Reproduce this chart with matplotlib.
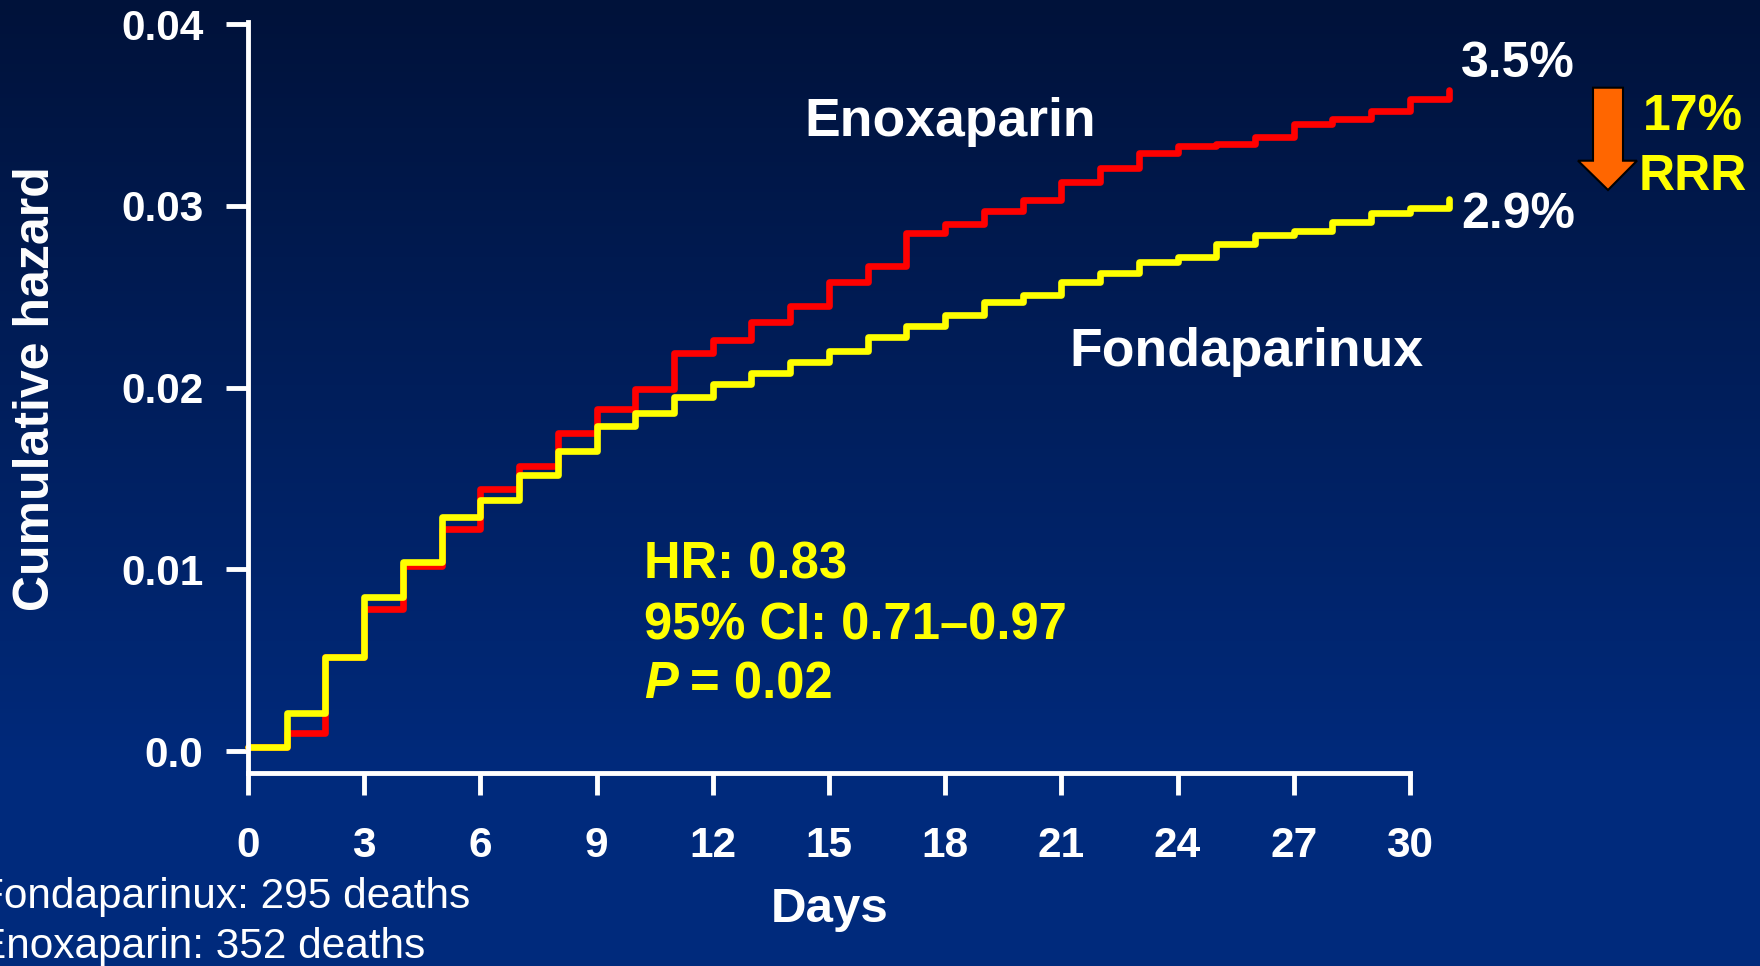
import numpy as np
import matplotlib
matplotlib.use("Agg")
import matplotlib.pyplot as plt
from matplotlib.patches import Polygon

plt.rcParams['font.family'] = ['Liberation Sans', 'DejaVu Sans']

# cumulative hazard at each day (step starts at that day), last value = day 31
days = np.arange(0, 32)
enoxaparin = [0.0002, 0.0010, 0.0052, 0.0078, 0.0102, 0.0122, 0.0144, 0.0157,
              0.0175, 0.0188, 0.0199, 0.0219, 0.0226, 0.0236, 0.0245, 0.0258,
              0.0267, 0.0285, 0.0290, 0.0297, 0.0303, 0.0313, 0.0321, 0.0329,
              0.0333, 0.0334, 0.0338, 0.0345, 0.0348, 0.0352, 0.0359, 0.0364]
fondaparinux = [0.0002, 0.0021, 0.0052, 0.0085, 0.0104, 0.0129, 0.0138, 0.0152,
                0.0165, 0.0179, 0.0186, 0.0195, 0.0202, 0.0208, 0.0214, 0.0220,
                0.0228, 0.0234, 0.0240, 0.0247, 0.0251, 0.0258, 0.0263, 0.0269,
                0.0272, 0.0279, 0.0284, 0.0286, 0.0291, 0.0296, 0.0299, 0.0304]

x_ticks = np.arange(0, 31, 3)
y_ticks = [0.0, 0.01, 0.02, 0.03, 0.04]
y_tick_labels = ['0.0', '0.01', '0.02', '0.03', '0.04']

W, H = 1760, 966
fig = plt.figure(figsize=(W / 100, H / 100), dpi=100)

# background gradient
bg = fig.add_axes([0, 0, 1, 1], zorder=-10)
top_col = np.array([0, 18, 58]) / 255
bot_col = np.array([0, 42, 124]) / 255
t = np.linspace(0, 1, 256)[:, None]
t = np.clip(t / 0.8, 0, 1)
grad = (top_col[None, :] * (1 - t) + bot_col[None, :] * t)[:, None, :]
bg.imshow(grad, aspect='auto', extent=[0, 1, 0, 1])
bg.axis('off')

ax = fig.add_axes([248 / W, 1 - 773 / H, (1468 - 248) / W, (773 - 22.4) / H])
ax.set_facecolor('none')

ax.plot(days, enoxaparin, drawstyle='steps-post', color='#ff0000', lw=4.8,
        solid_joinstyle='round', solid_capstyle='round', clip_on=False)
ax.plot(days, fondaparinux, drawstyle='steps-post', color='#ffff00', lw=4.8,
        solid_joinstyle='round', solid_capstyle='round', clip_on=False)

ax.set_xlim(0, 31.5)
ax.set_ylim(-0.00121, 0.0401)
for s in ['top', 'right']:
    ax.spines[s].set_visible(False)
for s in ['left', 'bottom']:
    ax.spines[s].set_color('white')
    ax.spines[s].set_linewidth(3.5)
ax.spines['bottom'].set_bounds(0, 30)

ax.set_xticks(x_ticks)
ax.set_yticks(y_ticks)
ax.set_yticklabels(y_tick_labels)
ax.tick_params(axis='both', direction='out', colors='white', width=3.5,
               length=16, labelsize=30.5)
ax.tick_params(axis='x', pad=22)
ax.tick_params(axis='y', pad=16)
for lab in ax.get_xticklabels() + ax.get_yticklabels():
    lab.set_fontweight('bold')

fig.text(36 / W, 1 - 389 / H, 'Cumulative hazard', rotation=90, ha='center',
         va='center', color='white', fontsize=36, fontweight='bold')
fig.text(830 / W, 1 - 922 / H, 'Days', ha='center', va='baseline',
         color='white', fontsize=35.5, fontweight='bold')

ax.text(14.36, 0.03386, 'Enoxaparin', color='white', fontsize=38.5,
        fontweight='bold', va='baseline')
ax.text(21.22, 0.02118, 'Fondaparinux', color='white', fontsize=38.5,
        fontweight='bold', va='baseline')
ax.text(31.32, 0.03709, '3.5%', color='white', fontsize=36,
        fontweight='bold', va='baseline', clip_on=False)
ax.text(31.32, 0.02878, '2.9%', color='white', fontsize=36,
        fontweight='bold', va='baseline', clip_on=False)

ax.text(10.22, 0.00950, 'HR: 0.83', color='#ffff00', fontsize=36.5,
        fontweight='bold', va='baseline')
ax.text(10.22, 0.00615, '95% CI: 0.71\u20130.97', color='#ffff00', fontsize=36.5,
        fontweight='bold', va='baseline')
ax.text(10.22, 0.00290, 'P', color='#ffff00', fontsize=36.5,
        fontweight='bold', fontstyle='italic', va='baseline')
ax.text(11.40, 0.00290, '= 0.02', color='#ffff00', fontsize=36.5,
        fontweight='bold', va='baseline')

fig.text(1693 / W, 1 - 130 / H, '17%', color='#ffff00', fontsize=36,
         fontweight='bold', ha='center', va='baseline')
fig.text(1693 / W, 1 - 190 / H, 'RRR', color='#ffff00', fontsize=36,
         fontweight='bold', ha='center', va='baseline')

arrow_px = [(1593, 87.7), (1623, 87.7), (1623, 160.7), (1637, 160.7),
            (1608, 190), (1578, 160.7), (1593, 160.7)]
arrow = Polygon([(x / W, 1 - y / H) for x, y in arrow_px], closed=True,
                facecolor='#ff6600', edgecolor='black', lw=1.5,
                transform=fig.transFigure)
fig.patches.append(arrow)

# footnote is cut at the left edge in the original slide
fig.text(-22 / W, 1 - 908 / H, 'Fondaparinux: 295 deaths', color='white',
         fontsize=30.5, va='baseline')
fig.text(-22 / W, 1 - 958 / H, 'Enoxaparin: 352 deaths', color='white',
         fontsize=30.5, va='baseline')

fig.savefig('out.png', dpi=100)
